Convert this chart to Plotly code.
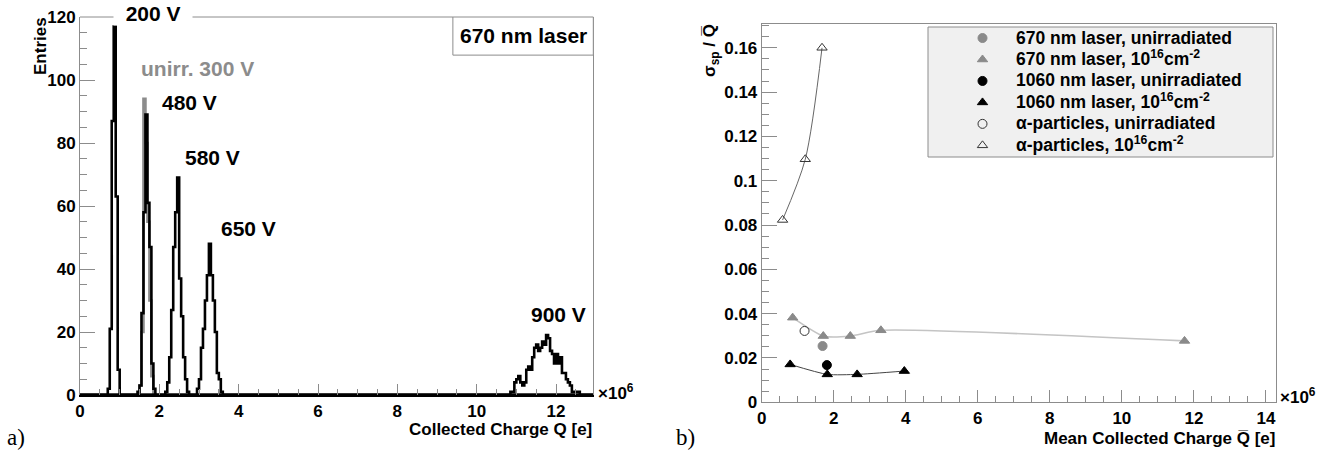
import numpy as np
import plotly.graph_objects as go

W, H = 1333, 459

# ---------------- Panel a: charge spectra (670 nm laser) ----------------
BIN = 0.05          # bin width [1e6 e]
N_BINS = 260        # 0 .. 13e6 e

h200_start = 0.70
h200_counts = [2, 21, 87, 117, 63, 8]
h300u_start = 1.50
h300u_counts = [3, 20, 94, 80, 55, 30, 6]
h480_start = 1.45
h480_counts = [1, 3, 26, 58, 89, 61, 47, 10, 2]
h580_start = 2.15
h580_counts = [1, 4, 12, 27, 47, 58, 69, 37, 25, 12, 5, 1]
h650_start = 2.95
h650_counts = [2, 5, 15, 21, 30, 38, 48, 38, 30, 20, 7, 5, 1]
h900_start = 10.85
h900_counts = [1, 1, 4, 5, 6, 4, 3, 4, 8, 9, 8, 12, 15, 16, 14, 15, 17, 16, 19,
               18, 14, 13, 10, 13, 10, 12, 7, 7, 5, 4, 3, 1, 1, 1, 1]

peak_labels = ["unirr. 300 V", "480 V", "580 V", "650 V", "900 V"]
peak_label_q = [2.95, 2.77, 3.34, 4.26, 12.07]
peak_label_n = [103.5, 92.9, 75.4, 53.0, 25.7]
peak_label_col = ["#8c8c8c", "black", "black", "black", "black"]
title_label = "200 V"

# ---------------- Panel b: relative spread vs mean charge ----------------
q_670_unirr = [1.69]
r_670_unirr = [0.0254]
q_670_irr = [0.86, 1.71, 2.46, 3.31, 11.74]
r_670_irr = [0.0382, 0.0299, 0.0299, 0.0325, 0.0277]
q_1060_unirr = [1.81]
r_1060_unirr = [0.0168]
q_1060_irr = [0.79, 1.82, 2.65, 3.96]
r_1060_irr = [0.0171, 0.0126, 0.0126, 0.0141]
q_alpha_unirr = [1.19]
r_alpha_unirr = [0.0322]
q_alpha_irr = [0.58, 1.21, 1.675]
r_alpha_irr = [0.0823, 0.1097, 0.160]

FONT = "Liberation Sans, Arial, Helvetica, sans-serif"
GRAY = "#8a8a8a"
AX = "#8c8c8c"

fig = go.Figure()

edges = np.round(np.arange(N_BINS + 1) * BIN, 4)


def hist_xy(start, counts):
    y = np.zeros(N_BINS)
    i0 = int(round(start / BIN))
    y[i0:i0 + len(counts)] = counts
    return edges, np.append(y, y[-1])


hists = [
    (h300u_start, h300u_counts, "#8c8c8c"),
    (h200_start, h200_counts, "black"),
    (h480_start, h480_counts, "black"),
    (h580_start, h580_counts, "black"),
    (h650_start, h650_counts, "black"),
    (h900_start, h900_counts, "black"),
]
for st, cn, col in hists:
    hx, hy = hist_xy(st, cn)
    fig.add_trace(go.Scatter(x=hx, y=hy, mode="lines", line=dict(color=col, width=2.6, shape="hv"),
                             xaxis="x", yaxis="y", showlegend=False, hoverinfo="skip"))

# Panel b connecting curves
fig.add_trace(go.Scatter(x=q_670_irr, y=r_670_irr, mode="lines",
                         line=dict(color="#c4c4c4", width=1.6, shape="spline", smoothing=0.6),
                         xaxis="x2", yaxis="y2", showlegend=False, hoverinfo="skip"))
fig.add_trace(go.Scatter(x=q_1060_irr, y=r_1060_irr, mode="lines",
                         line=dict(color="#444444", width=1, shape="spline", smoothing=0.6),
                         xaxis="x2", yaxis="y2", showlegend=False, hoverinfo="skip"))
fig.add_trace(go.Scatter(x=q_alpha_irr, y=r_alpha_irr, mode="lines",
                         line=dict(color="#666666", width=1, shape="spline", smoothing=0.8),
                         xaxis="x2", yaxis="y2", showlegend=False, hoverinfo="skip"))

LEG_SPAN = '<span style="font-size:17.5px">{}</span>'
series_b = [
    ("670 nm laser, unirradiated", q_670_unirr, r_670_unirr, "circle", GRAY),
    ("670 nm laser, 10<sup>16</sup>cm<sup>-2</sup>", q_670_irr, r_670_irr, "triangle-up", GRAY),
    ("1060 nm laser, unirradiated", q_1060_unirr, r_1060_unirr, "circle", "black"),
    ("1060 nm laser, 10<sup>16</sup>cm<sup>-2</sup>", q_1060_irr, r_1060_irr, "triangle-up", "black"),
    ("α-particles, unirradiated", q_alpha_unirr, r_alpha_unirr, "circle-open", "#333333"),
    ("α-particles, 10<sup>16</sup>cm<sup>-2</sup>", q_alpha_irr, r_alpha_irr, "triangle-up-open", "#333333"),
]
for name, qx, ry, sym, col in series_b:
    fig.add_trace(go.Scatter(x=qx, y=ry, mode="markers", name=LEG_SPAN.format(name),
                             marker=dict(symbol=sym, color=col, size=9, line=dict(width=1, color=col)),
                             xaxis="x2", yaxis="y2"))

tickfont = dict(family=FONT, size=17, color="black", weight="bold")


def px_x(p):
    return p / W


def px_y(p):
    return 1 - p / H


common = dict(showgrid=False, zeroline=False, ticks="inside", tickcolor=AX, tickwidth=1,
              tickfont=tickfont, showline=True, linecolor=AX, linewidth=1, automargin=False)

fig.update_layout(
    width=W, height=H,
    autosize=False,
    margin=dict(l=0, r=0, t=0, b=0, pad=0, autoexpand=False),
    paper_bgcolor="white", plot_bgcolor="white",
    xaxis=dict(domain=[px_x(80), px_x(593.3)], range=[0, 12.94], dtick=2, tick0=0,
               ticklen=11, minor=dict(ticks="inside", ticklen=6, dtick=0.5, tickcolor=AX, showgrid=False),
               anchor="y", **{**common, "linecolor": "black", "linewidth": 2}),
    yaxis=dict(domain=[px_y(395), px_y(17)], range=[0, 120], dtick=20, tick0=0,
               ticklen=15, minor=dict(ticks="inside", ticklen=7, dtick=5, tickcolor=AX, showgrid=False),
               anchor="x", mirror=True, **common),
    xaxis2=dict(domain=[px_x(761.7), px_x(1276)], range=[0, 14.28], dtick=2, tick0=0,
                ticklen=12, minor=dict(ticks="inside", ticklen=6, dtick=0.5, tickcolor=AX, showgrid=False),
                anchor="y2", mirror=True, **common),
    yaxis2=dict(domain=[px_y(402.3), px_y(24.3)], range=[0, 0.1706], dtick=0.02, tick0=0,
                ticklen=15, minor=dict(ticks="inside", ticklen=7, dtick=0.005, tickcolor=AX, showgrid=False),
                anchor="x2", mirror=True, **common),
    legend=dict(x=px_x(949), y=px_y(22.3), xanchor="left", yanchor="top",
                bgcolor="rgba(0,0,0,0)", borderwidth=0,
                font=dict(family=FONT, size=14.2, color="black", weight="bold"),
                itemwidth=57, tracegroupgap=0),
)

shapes = [
    # top frame line of panel a
    dict(type="line", xref="paper", yref="paper", x0=px_x(80), x1=px_x(593.3), y0=px_y(17), y1=px_y(17),
         line=dict(color=AX, width=1)),
    # 670 nm laser box
    dict(type="rect", xref="x", yref="y", x0=9.40, x1=12.94, y0=107.9, y1=120,
         line=dict(color=AX, width=1), fillcolor="white"),
    # legend box of panel b
    dict(type="rect", xref="paper", yref="paper", x0=px_x(928), x1=px_x(1273), y0=px_y(157), y1=px_y(27),
         line=dict(color=AX, width=1), fillcolor="#f0f0f0", layer="below"),
]
fig.update_layout(shapes=shapes)

ann = []
for t, qx, ny, col in zip(peak_labels, peak_label_q, peak_label_n, peak_label_col):
    ann.append(dict(x=qx, y=ny, xref="x", yref="y", text=t, showarrow=False,
                    xanchor="center", yanchor="middle",
                    font=dict(family=FONT, size=21, color=col, weight="bold")))
ann.append(dict(x=11.17, y=114.0, xref="x", yref="y", text="670 nm laser", showarrow=False,
                xanchor="center", yanchor="middle",
                font=dict(family=FONT, size=21, color="black", weight="bold")))

tf = dict(family=FONT, size=17, color="black", weight="bold")
serif = dict(family="Liberation Serif, Times New Roman, serif", size=23, color="black")
paper_ann = [
    dict(x=px_x(152.5), y=px_y(14), text="\u00a0\u00a0" + title_label + "\u00a0\u00a0",
         font=dict(family=FONT, size=21, color="black", weight="bold"),
         bgcolor="white", borderpad=0, xanchor="center", yanchor="middle"),
    dict(x=px_x(40), y=px_y(46), text="Entries", textangle=-90, font=tf,
         xanchor="center", yanchor="middle"),
    dict(x=px_x(594), y=px_y(429.5), text="Collected Charge Q [e]", font=tf,
         xanchor="right", yanchor="middle"),
    dict(x=px_x(596), y=px_y(392), text="×10<sup>6</sup>", font=tf,
         xanchor="left", yanchor="middle"),
    dict(x=px_x(1278), y=px_y(396), text="×10<sup>6</sup>", font=tf,
         xanchor="left", yanchor="middle"),
    dict(x=px_x(1277), y=px_y(438), text="Mean Collected Charge Q\u0305 [e]", font=tf,
         xanchor="right", yanchor="middle"),
    dict(x=px_x(711), y=px_y(51), text="σ<sub>sp</sub> / Q\u0305", textangle=-90, font=tf,
         xanchor="center", yanchor="middle"),
    dict(x=px_x(16), y=px_y(437), text="a)", font=serif, xanchor="center", yanchor="middle"),
    dict(x=px_x(685.5), y=px_y(437), text="b)", font=serif, xanchor="center", yanchor="middle"),
]
for a in paper_ann:
    a.update(xref="paper", yref="paper", showarrow=False)
fig.update_layout(annotations=ann + paper_ann)

fig.write_html("out.html", config={"displayModeBar": False},
               post_script="document.body.style.margin='0px';"
                           "document.body.style.overflow='hidden';")
